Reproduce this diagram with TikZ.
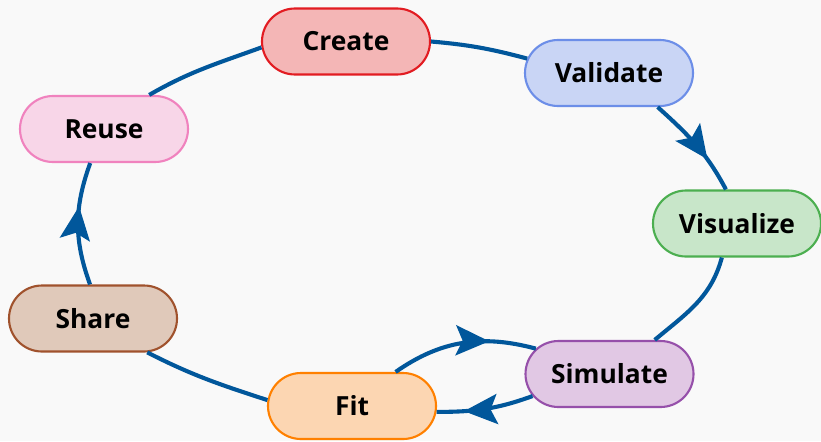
\documentclass[tikz,border=0pt]{standalone}
\usepackage{fontspec}
\setmainfont{Open Sans}
\usetikzlibrary{arrows.meta,decorations.markings,shapes.misc}
\definecolor{bgpaper}{RGB}{249,249,249}
\definecolor{flowblue}{RGB}{1,87,155}
\definecolor{createfill}{RGB}{244,182,182}
\definecolor{createline}{RGB}{226,28,34}
\definecolor{validfill}{RGB}{201,213,245}
\definecolor{validline}{RGB}{108,142,232}
\definecolor{visfill}{RGB}{200,230,201}
\definecolor{visline}{RGB}{76,175,80}
\definecolor{simfill}{RGB}{225,200,228}
\definecolor{simline}{RGB}{150,80,170}
\definecolor{fitfill}{RGB}{252,214,178}
\definecolor{fitline}{RGB}{255,128,0}
\definecolor{sharefill}{RGB}{224,201,186}
\definecolor{shareline}{RGB}{160,82,45}
\definecolor{reusefill}{RGB}{248,214,232}
\definecolor{reuseline}{RGB}{240,130,190}

\begin{document}
\begin{tikzpicture}[x=0.03cm,y=0.03cm,
  stage/.style={rounded rectangle,draw,line width=1.8pt,
    minimum width=5.04cm,minimum height=1.98cm,inner sep=0pt,
    font=\fontsize{22.5}{26}\selectfont\bfseries},
  flow/.style={draw=flowblue,line width=3.5pt},
  midarrow/.style={postaction={decorate},decoration={markings,
    mark=at position #1 with {\arrow{Stealth[length=1.0cm,width=0.9cm,inset=0.2cm]}}}}]

%% ── background ──────────────────────────────────────────────────────────────
\fill[bgpaper] (0,0) rectangle (821,-441);
\useasboundingbox (0,0) rectangle (821,-441);

%% ── stages of the cycle ─────────────────────────────────────────────────────
\node[stage,fill=createfill,draw=createline] (create)    at (346,-41.5)  {Create};
\node[stage,fill=validfill,draw=validline]   (validate)  at (609,-73)    {Validate};
\node[stage,fill=visfill,draw=visline]       (visualize) at (737,-223.5) {Visualize};
\node[stage,fill=simfill,draw=simline]       (simulate)  at (609.5,-374) {Simulate};
\node[stage,fill=fitfill,draw=fitline]       (fit)       at (352,-406)   {Fit};
\node[stage,fill=sharefill,draw=shareline]   (share)     at (93,-318.5)  {Share};
\node[stage,fill=reusefill,draw=reuseline]   (reuse)     at (104,-129)   {Reuse};

%% ── connectors ──────────────────────────────────────────────────────────────
\draw[flow] (reuse.37) to[out=30,in=200] (create.184);
\draw[flow] (create.0) to[out=-5,in=165] (validate.170);
\draw[flow,midarrow=0.67] (validate.-35) to[out=-42,in=118] (visualize.108);
\draw[flow] (visualize.-114) to[out=-105,in=40] (simulate.37);
% fit and simulate feed each other
\draw[flow,midarrow=0.68] (fit.38) to[out=35,in=165] (simulate.161);
\draw[flow,midarrow=0.72] (simulate.196) to[out=200,in=0] (fit.-4);
\draw[flow] (share.-32) to[out=-27,in=162] (fit.176);
\draw[flow,midarrow=0.64] (share.95) to[out=110,in=-110] (reuse.-112);

\end{tikzpicture}
\end{document}
